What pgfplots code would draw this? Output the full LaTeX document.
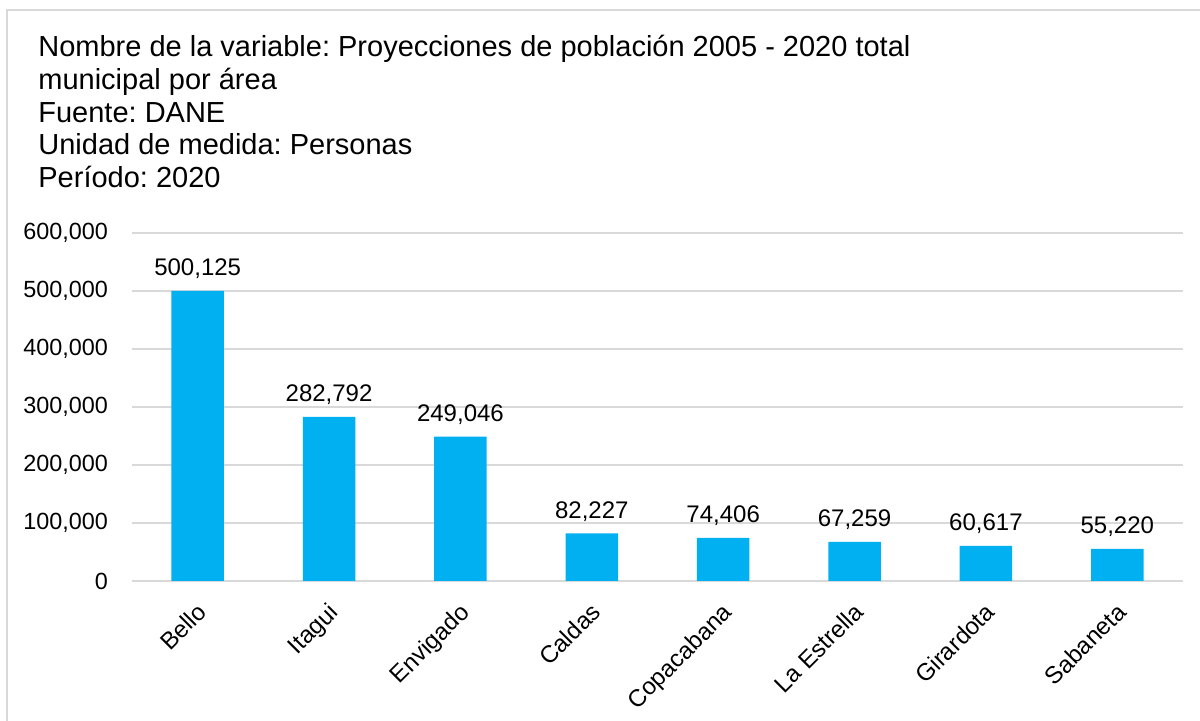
\documentclass[border=0pt]{standalone}
\usepackage{pgfplots}
\pgfplotsset{compat=1.18}
\usepackage{fontspec}
\setmainfont{Liberation Sans}
\frenchspacing
\definecolor{barc}{HTML}{00B0F0}
\definecolor{gridc}{HTML}{D9D9D9}
\begin{document}
\begin{tikzpicture}
\useasboundingbox (-66pt,-70pt) rectangle (534pt,290.5pt);
\draw[gridc, line width=1pt] (-62.5pt,-75pt) -- (-62.5pt,285.5pt) -- (540pt,285.5pt);
\foreach \t/\y in {{Nombre de la variable: Proyecciones de población 2005 - 2020 total}/262,
  {municipal por área}/245.5,{Fuente: DANE}/229,{Unidad de medida: Personas}/213,{Período: 2020}/196.5}
  \node[anchor=base west, inner sep=0pt, font=\fontsize{14.5}{17}\selectfont] at (-47pt,\y pt) {\t};
\begin{axis}[
  at={(0,0)}, anchor=south west,
  scale only axis, width=525.5pt, height=174pt,
  xmin=-0.5, xmax=7.5, ymin=0, ymax=600000,
  ybar, bar width=0.4,
  axis line style={draw=none},
  major tick length=0pt,
  scaled y ticks=false,
  ymajorgrids, grid style={gridc, line width=0.8pt},
  ytick={0,100000,200000,300000,400000,500000,600000},
  yticklabels={0,{100,000},{200,000},{300,000},{400,000},{500,000},{600,000}},
  yticklabel style={font=\fontsize{11.7}{13}\selectfont, xshift=-8.5pt},
  xtick=data,
  xticklabels={Bello,Itagui,Envigado,Caldas,Copacabana,La Estrella,Girardota,Sabaneta},
  xticklabel style={font=\fontsize{12}{13}\selectfont, rotate=45, anchor=north east, xshift=-4.5pt, yshift=-3pt},
  point meta=explicit symbolic,
  nodes near coords,
  every node near coord/.append style={font=\fontsize{12}{13}\selectfont, black, yshift=2.5pt},
]
\addplot[fill=barc, draw=none] table[meta=lab] {
x y lab
0 500125 500,125
1 282792 282,792
2 249046 249,046
3 82227 82,227
4 74406 74,406
5 67259 67,259
6 60617 60,617
7 55220 55,220
};
\end{axis}
\end{tikzpicture}
\end{document}
